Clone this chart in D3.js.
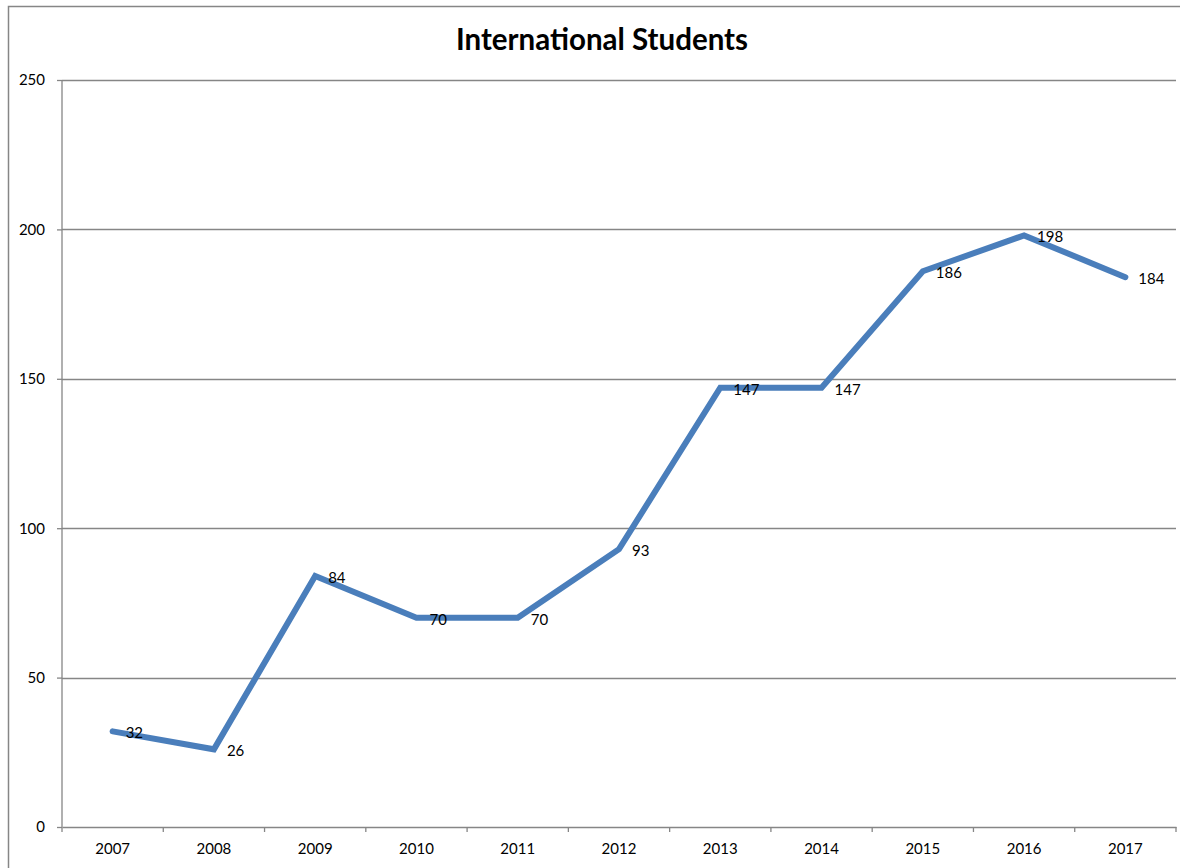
<!DOCTYPE html>
<html>
<head>
<meta charset="utf-8">
<script src="https://cdn.jsdelivr.net/npm/d3@7"></script>
<style>
  body { margin: 0; background: #fff; }
  svg { display: block; font-family: Lato, "Open Sans", sans-serif; }
</style>
</head>
<body>
<div id="chart"></div>
<script>
var years = ["2007", "2008", "2009", "2010", "2011", "2012", "2013", "2014", "2015", "2016", "2017"];
var students = [32, 26, 84, 70, 70, 93, 147, 147, 186, 198, 184];
var yTicks = [0, 50, 100, 150, 200, 250];

var svgWidth = 1180;
var svgHeight = 868;

var margin = { top: 80, right: 4, bottom: 41, left: 62 };
var width = svgWidth - margin.left - margin.right;
var height = svgHeight - margin.top - margin.bottom;

var svg = d3.select("#chart")
  .append("svg")
  .attr("width", svgWidth)
  .attr("height", svgHeight);

// outer chart border
svg.append("rect")
  .attr("x", 8.5)
  .attr("y", 6.5)
  .attr("width", svgWidth + 20)
  .attr("height", svgHeight + 20)
  .attr("fill", "none")
  .attr("stroke", "#868686")
  .attr("stroke-width", 1.5);

svg.append("text")
  .attr("x", 602)
  .attr("y", 50)
  .attr("text-anchor", "middle")
  .attr("font-size", 29.5)
  .attr("font-weight", "bold")
  .attr("fill", "#000")
  .text("International Students");

var chartGroup = svg.append("g")
  .attr("transform", `translate(${margin.left}, ${margin.top})`);

var xScale = d3.scaleBand()
  .domain(years)
  .range([0, width]);

var yScale = d3.scaleLinear()
  .domain([0, 250])
  .range([height, 0]);

// gridlines
chartGroup.selectAll("line.grid")
  .data(yTicks.filter(d => d > 0))
  .enter()
  .append("line")
  .attr("class", "grid")
  .attr("x1", 0)
  .attr("x2", width)
  .attr("y1", d => Math.round(yScale(d)) + 0.5)
  .attr("y2", d => Math.round(yScale(d)) + 0.5)
  .attr("stroke", "#868686")
  .attr("stroke-width", 1.3);

// axes
var leftAxis = d3.axisLeft(yScale)
  .tickValues(yTicks)
  .tickSize(5)
  .tickPadding(12);

var bottomAxis = d3.axisBottom(xScale)
  .tickSize(0)
  .tickPadding(16);

var yAxisG = chartGroup.append("g").call(leftAxis);
var xAxisG = chartGroup.append("g")
  .attr("transform", `translate(0, ${height})`)
  .call(bottomAxis);

[yAxisG, xAxisG].forEach(function(g) {
  g.select(".domain").attr("stroke", "#868686").attr("stroke-width", 1.3);
  g.selectAll(".tick line").attr("stroke", "#868686").attr("stroke-width", 1.3);
  g.selectAll(".tick text").attr("font-size", 15).attr("fill", "#000")
    .attr("font-family", "Lato, 'Open Sans', sans-serif");
});
yAxisG.select(".domain").attr("d", `M0,${height}V0`);

// category boundary ticks on x axis
chartGroup.selectAll("line.xtick")
  .data(d3.range(years.length + 1))
  .enter()
  .append("line")
  .attr("class", "xtick")
  .attr("x1", i => xScale.step() * i)
  .attr("x2", i => xScale.step() * i)
  .attr("y1", height)
  .attr("y2", height + 5)
  .attr("stroke", "#868686")
  .attr("stroke-width", 1.3);

// the line
var line = d3.line()
  .x((d, i) => xScale(years[i]) + xScale.bandwidth() / 2)
  .y(d => yScale(d));

chartGroup.append("path")
  .datum(students)
  .attr("d", line)
  .attr("fill", "none")
  .attr("stroke", "#4a7ebb")
  .attr("stroke-width", 6)
  .attr("stroke-linejoin", "miter")
  .attr("stroke-linecap", "round");

// data labels
chartGroup.selectAll("text.dataLabel")
  .data(students)
  .enter()
  .append("text")
  .attr("class", "dataLabel")
  .attr("x", (d, i) => xScale(years[i]) + xScale.bandwidth() / 2 + 13)
  .attr("y", d => yScale(d) + 7)
  .attr("font-size", 15)
  .attr("fill", "#000")
  .text(d => d);
</script>
</body>
</html>
